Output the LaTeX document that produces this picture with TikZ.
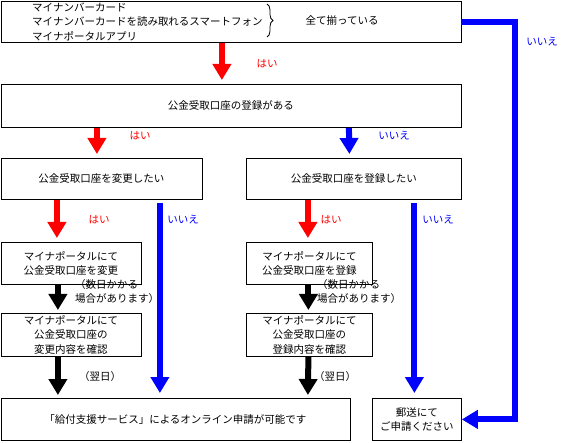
\documentclass[tikz,border=0pt]{standalone}
\usepackage{fontspec}
\setmainfont{Noto Sans CJK JP}
\usetikzlibrary{arrows.meta,decorations.pathreplacing}
\definecolor{myred}{RGB}{255,0,0}
\definecolor{myblue}{RGB}{0,0,255}
\newcommand\myfs{\fontsize{10.5pt}{14.5pt}\selectfont}
\begin{document}
\begin{tikzpicture}[x=1pt,y=-1pt,
  box/.style={draw, line width=0.8pt, inner sep=0pt, anchor=north west, align=center, font=\myfs, text=black},
  arr/.style={line width=6pt, -{Triangle[width=18pt,length=16pt]}},
  redarr/.style={arr, draw=myred},
  bluearr/.style={arr, draw=myblue},
  blackarr/.style={arr, draw=black},
  lbl/.style={font=\myfs, inner sep=0pt},
  redlbl/.style={lbl, text=myred},
  bluelbl/.style={lbl, text=myblue},
  bracestyle/.style={decorate, decoration={brace, amplitude=6pt}, line width=0.8pt}
]
\useasboundingbox (0,0) rectangle (567,443);

% boxes
\node[box, minimum width=460pt, minimum height=41pt] (b1) at (0.5,1) {};
\node[lbl, align=left, anchor=west] (b1t) at (32,21.5) {マイナンバーカード\\マイナンバーカードを読み取れるスマートフォン\\マイナポータルアプリ};
\coordinate (brt) at (267,4);
\coordinate (brb) at (267,37);
\draw[bracestyle] (brt) -- (brb);
\node[lbl] (b1r) at (342,20.5) {全て揃っている};

\node[box, minimum width=460pt, minimum height=43pt] (b2) at (0.5,84) {公金受取口座の登録がある};
\node[box, minimum width=201pt, minimum height=41pt] (b3) at (0.5,158) {公金受取口座を変更したい};
\node[box, minimum width=215pt, minimum height=41pt] (b4) at (246,158) {公金受取口座を登録したい};
\node[box, minimum width=140pt, minimum height=42pt] (b5) at (0.5,242) {マイナポータルにて\\公金受取口座を変更};
\node[box, minimum width=126pt, minimum height=42pt] (b6) at (246,242) {マイナポータルにて\\公金受取口座を登録};
\node[box, minimum width=140pt, minimum height=43pt] (b7) at (0.5,313) {マイナポータルにて\\公金受取口座の\\変更内容を確認};
\node[box, minimum width=126pt, minimum height=43pt] (b8) at (246,313) {マイナポータルにて\\公金受取口座の\\登録内容を確認};
\node[box, minimum width=349pt, minimum height=42pt] (b9) at (0.5,398) {「給付支援サービス」によるオンライン申請が可能です};
\node[box, minimum width=89pt, minimum height=42pt] (b10) at (372,398) {郵送にて\\ご申請ください};

% connectors
\draw[redarr] ([xshift=-9pt]b1.south) -- ([xshift=-9pt,yshift=4pt]b2.north);
\draw[redarr] ([xshift=-134pt]b2.south) -- ([xshift=-4.5pt,yshift=4pt]b3.north);
\draw[bluearr] ([xshift=118pt]b2.south) -- ([xshift=-4.5pt,yshift=4pt]b4.north);
\draw[redarr] ([xshift=-44.5pt]b3.south) -- ([xshift=-14pt,yshift=4pt]b5.north);
\draw[bluearr] ([xshift=58.5pt,yshift=-3pt]b3.south) -- ([xshift=-15.5pt,yshift=5pt]b9.north);
\draw[redarr] ([xshift=-46pt]b4.south) -- ([xshift=-1.5pt,yshift=4pt]b6.north);
\draw[bluearr] ([xshift=60.5pt,yshift=-3pt]b4.south) -- ([xshift=-2.5pt,yshift=5pt]b10.north);
\draw[blackarr] ([xshift=-13pt]b5.south) -- ([xshift=-13pt,yshift=3pt]b7.north);
\draw[blackarr] ([xshift=-13pt]b7.south) -- ([xshift=-117.5pt,yshift=3pt]b9.north);
\draw[blackarr] ([xshift=-1pt]b6.south) -- ([xshift=-1pt,yshift=3pt]b8.north);
\draw[blackarr] ([xshift=-1pt]b8.south) -- ([xshift=132.5pt,yshift=3pt]b9.north);
\draw[bluearr, line join=miter] (b1.east) -| ([xshift=53pt]b10.east) -- (b10.east);

% labels
\node[redlbl] (l1) at (267,64) {はい};
\node[bluelbl] (l2) at (542,42) {いいえ};
\node[redlbl] (l3) at (140,136) {はい};
\node[bluelbl] (l4) at (394,136) {いいえ};
\node[redlbl] (l5) at (99,220) {はい};
\node[bluelbl] (l6) at (183,220) {いいえ};
\node[redlbl] (l7) at (331,220) {はい};
\node[bluelbl] (l8) at (438,220) {いいえ};
\node[lbl, align=left, anchor=west] (l9) at (75,291.5) {（数日かかる\\場合があります）};
\node[lbl, align=left, anchor=west] (l10) at (317,291.5) {（数日かかる\\場合があります）};
\node[lbl] (l11) at (100,376.5) {（翌日）};
\node[lbl] (l12) at (335,376.5) {（翌日）};
\end{tikzpicture}
\end{document}
